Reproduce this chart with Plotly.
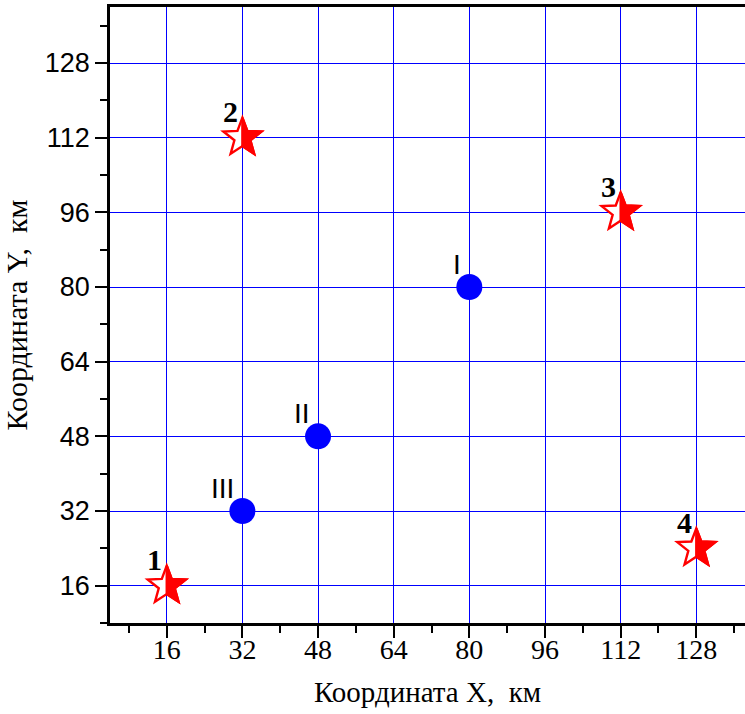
import numpy as np
import plotly.graph_objects as go

# Point sources (stars) and receivers (circles), coordinates in km
star_x = [16, 32, 112, 128]
star_y = [16, 112, 96, 24]
star_labels = ["1", "2", "3", "4"]

circle_x = [80, 48, 32]
circle_y = [80, 48, 32]
circle_labels = ["I", "II", "III"]

x_ticks = [16, 32, 48, 64, 80, 96, 112, 128]
y_ticks = [16, 32, 48, 64, 80, 96, 112, 128]

RED = "#ff0000"
BLUE = "#0000ff"
SERIF = "Liberation Serif, Times New Roman, serif"
SANS = "Liberation Sans Narrow, Liberation Sans, Arial, sans-serif"


def star_points(R=20.0, ratio=0.42):
    pts = []
    for k in range(10):
        ang = np.pi / 2 - k * np.pi / 5
        rad = R if k % 2 == 0 else R * ratio
        pts.append((rad * np.cos(ang), rad * np.sin(ang)))
    return pts


def path_from(pts):
    return "M " + " L ".join(f"{px:.2f},{py:.2f}" for px, py in pts) + " Z"


pts = star_points()
full_star = path_from(pts)
right_half = path_from(pts[:6])  # top tip round the right side to the bottom notch

fig = go.Figure()

fig.add_trace(go.Scatter(
    x=circle_x, y=circle_y, mode="markers",
    marker=dict(color=BLUE, size=26, line=dict(width=0)),
    hoverinfo="skip", showlegend=False,
))
fig.add_trace(go.Scatter(
    x=star_x, y=star_y, mode="markers",
    marker=dict(color="rgba(0,0,0,0)", size=1),
    hoverinfo="skip", showlegend=False,
))

shapes = []
for sx, sy in zip(star_x, star_y):
    common = dict(type="path", xref="x", yref="y", xsizemode="pixel", ysizemode="pixel",
                  xanchor=sx, yanchor=sy, layer="above")
    shapes.append(dict(common, path=full_star, fillcolor="white",
                       line=dict(color=RED, width=2.4)))
    shapes.append(dict(common, path=right_half, fillcolor=RED,
                       line=dict(color=RED, width=2.4)))

annotations = []
for sx, sy, lab in zip(star_x, star_y, star_labels):
    annotations.append(dict(
        x=sx, y=sy, xref="x", yref="y", text=f"<b>{lab}</b>", showarrow=False,
        xshift=-12, yshift=26,
        font=dict(family=SERIF, size=30, color="black"),
    ))
for cx, cy, lab in zip(circle_x, circle_y, circle_labels):
    annotations.append(dict(
        x=cx, y=cy, xref="x", yref="y", text=lab, showarrow=False,
        xanchor="right", yanchor="middle", xshift=-6, yshift=23,
        font=dict(family=SANS, size=28, color="black"),
    ))

axis_common = dict(
    showline=True, linecolor="black", linewidth=2.5,
    showgrid=True, gridcolor=BLUE, gridwidth=1.2,
    zeroline=False,
    ticks="outside", ticklen=12, tickwidth=2, tickcolor="black",
    minor=dict(ticks="outside", ticklen=7, tickwidth=2, tickcolor="black",
               dtick=16, tick0=8, showgrid=False),
)

fig.update_layout(
    width=745, height=714,
    margin=dict(l=110, r=0, t=7, b=91),
    paper_bgcolor="white", plot_bgcolor="white",
    shapes=shapes, annotations=annotations,
    xaxis=dict(
        axis_common, range=[4, 138.3], mirror=True,
        tickvals=x_ticks, ticktext=[str(v) for v in x_ticks],
        ticklabelstandoff=-12,
        tickfont=dict(family=SERIF, size=28, color="black"),
        title=dict(text="Координата X,  км", standoff=18,
                   font=dict(family=SERIF, size=29, color="black")),
    ),
    yaxis=dict(
        axis_common, range=[8, 140], mirror=False,
        tickvals=y_ticks, ticktext=[str(v) for v in y_ticks],
        tickfont=dict(family=SANS, size=27, color="black"),
        title=dict(text="Координата Y,  км", standoff=12,
                   font=dict(family=SERIF, size=30, color="black")),
    ),
)

fig.write_html("out.html")
